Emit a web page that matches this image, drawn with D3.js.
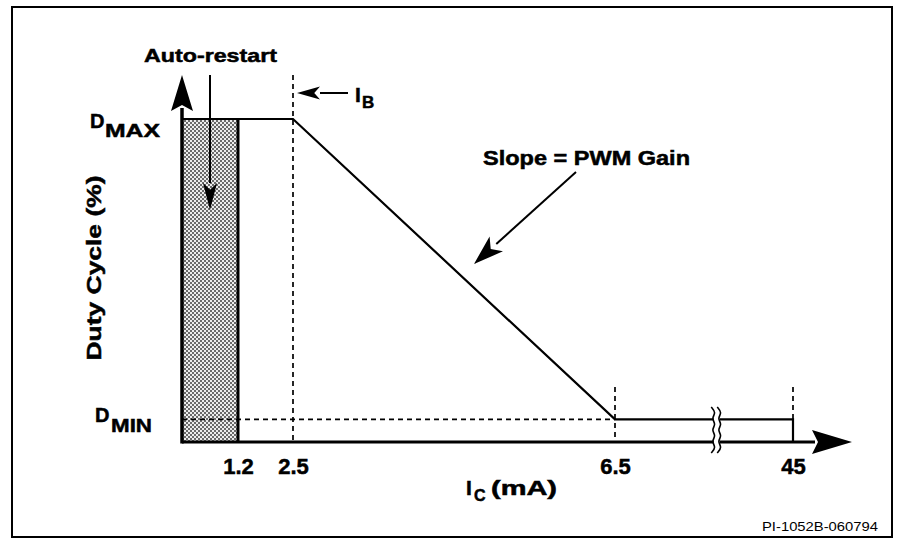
<!DOCTYPE html>
<html>
<head>
<meta charset="utf-8">
<script src="https://cdn.jsdelivr.net/npm/d3@7"></script>
<style>
  body { margin: 0; background: #fff; }
  svg text { font-family: "Liberation Sans", Arial, Helvetica, sans-serif; font-weight: bold; fill: #000; }
</style>
</head>
<body>
<svg id="chart" width="899" height="543"></svg>
<script>
// duty cycle vs control current
var xTicks   = [1.2, 2.5, 6.5, 45];
var xLabels  = ["1.2", "2.5", "6.5", "45"];
var dMax     = 100;   // duty cycle, % of full scale
var dMin     = 7;
var restartI = 1.2;   // auto-restart region ends here (mA)
var iB       = 2.5;
var breakAt  = 28.5;  // where the axis is broken
var curveI   = [0, 2.5, 6.5, 45, 45];
var curveD   = [100, 100, 7, 7, 0];

var svg = d3.select("#chart");

// piecewise scale, the axis is not to scale
var x = d3.scaleLinear().domain([0, 1.2, 2.5, 6.5, 45]).range([182, 238, 293, 615, 793]);
var y = d3.scaleLinear().domain([0, 100]).range([442, 119]);

var defs = svg.append("defs");
var pat = defs.append("pattern").attr("id", "stipple")
  .attr("width", 4).attr("height", 4).attr("patternUnits", "userSpaceOnUse");
pat.append("rect").attr("width", 4).attr("height", 4).attr("fill", "#ececec");
pat.append("rect").attr("width", 2).attr("height", 2).attr("fill", "#6a6a6a");
pat.append("rect").attr("x", 2).attr("y", 2).attr("width", 2).attr("height", 2).attr("fill", "#6a6a6a");

// outer frame
svg.append("rect").attr("x", 12).attr("y", 7).attr("width", 880).attr("height", 530)
  .attr("fill", "none").attr("stroke", "#000").attr("stroke-width", 2);

// shaded auto-restart band
svg.append("rect")
  .attr("x", x(0)).attr("y", y(dMax))
  .attr("width", x(restartI) - x(0)).attr("height", y(0) - y(dMax))
  .attr("fill", "url(#stipple)");
svg.append("line").attr("x1", x(restartI)).attr("x2", x(restartI))
  .attr("y1", y(dMax)).attr("y2", y(0))
  .attr("stroke", "#000").attr("stroke-width", 3);

// dashed guides
function dashed(x1, y1, x2, y2) {
  svg.append("line").attr("x1", x1).attr("y1", y1).attr("x2", x2).attr("y2", y2)
    .attr("stroke", "#000").attr("stroke-width", 1.7).attr("stroke-dasharray", "5,4");
}
dashed(x(iB), 75, x(iB), y(0));
dashed(x(0), y(dMin), x(6.5), y(dMin));
dashed(x(6.5), 387, x(6.5), y(0));
dashed(x(45), 387, x(45), y(dMin));

// the characteristic
var pts = curveI.map(function (d, i) { return [x(d), y(curveD[i])]; });
svg.append("path")
  .attr("d", d3.line()(pts))
  .attr("fill", "none").attr("stroke", "#000").attr("stroke-width", 2.2);

// axes with arrow heads
svg.append("line").attr("x1", x(0)).attr("x2", 815).attr("y1", y(0)).attr("y2", y(0))
  .attr("stroke", "#000").attr("stroke-width", 3);
svg.append("path").attr("d", "M852," + y(0) + "L812," + (y(0) - 12) + "L818," + y(0) + "L812," + (y(0) + 12) + "Z");
svg.append("line").attr("x1", x(0)).attr("x2", x(0)).attr("y1", y(0) + 1.5).attr("y2", 108)
  .attr("stroke", "#000").attr("stroke-width", 3.5);
svg.append("path").attr("d", "M" + x(0) + ",75L" + (x(0) - 11) + ",111L" + x(0) + ",105L" + (x(0) + 11) + ",111Z");

// axis break
var bx = x(breakAt);
svg.append("rect").attr("x", bx - 3).attr("y", 405).attr("width", 6).attr("height", 50).attr("fill", "#fff");
[bx - 3, bx + 3].forEach(function (cx) {
  var wave = [];
  for (var k = 0; k <= 8; k++) wave.push([cx + (k % 2 ? 2.5 : -2.5), 407 + k * 46 / 8]);
  svg.append("path").attr("d", d3.line().curve(d3.curveBasis)(wave))
    .attr("fill", "none").attr("stroke", "#000").attr("stroke-width", 1.6);
});

// tick labels
var xAxis = svg.append("g").attr("transform", "translate(0," + y(0) + ")")
  .call(d3.axisBottom(x).tickValues(xTicks).tickSize(0)
    .tickFormat(function (d, i) { return xLabels[i]; }));
xAxis.select(".domain").remove();
xAxis.selectAll("text").attr("y", 32).attr("dy", 0)
  .style("font-size", "22px").style("font-family", "'Liberation Sans', Arial, sans-serif")
  .style("font-weight", "bold").attr("fill", "#000")
  .attr("stroke", "#000").attr("stroke-width", 0.5);

// text helpers
function label(tx, ty, str, size, len, anchor) {
  var t = svg.append("text").attr("x", tx).attr("y", ty).text(str)
    .style("font-size", size + "px").attr("text-anchor", anchor || "start")
    .attr("stroke", "#000").attr("stroke-width", 0.5);
  if (len) t.attr("textLength", len).attr("lengthAdjust", "spacingAndGlyphs");
  return t;
}

label(90, 128, "D", 20);
label(105, 137, "MAX", 19, 55);
label(95, 422, "D", 20);
label(111, 432, "MIN", 19, 41);

label(144, 62, "Auto-restart", 18.5, 133);
label(483, 165, "Slope = PWM Gain", 19.5, 207);
label(355, 102, "I", 21);
label(362, 108, "B", 17);
label(466, 495, "I", 21);
label(474, 501, "C", 16);
label(491, 495, "(mA)", 20, 66);
svg.append("text").attr("x", 878).attr("y", 531).text("PI-1052B-060794")
  .attr("text-anchor", "end").style("font-size", "13px").style("font-weight", "normal")
  .attr("textLength", 116).attr("lengthAdjust", "spacingAndGlyphs");

svg.append("text").attr("transform", "translate(101,268) rotate(-90)")
  .attr("text-anchor", "middle").style("font-size", "21px")
  .attr("stroke", "#000").attr("stroke-width", 0.5)
  .attr("textLength", 185).attr("lengthAdjust", "spacingAndGlyphs")
  .text("Duty Cycle (%)");

// annotation arrows
function arrow(x1, y1, x2, y2, len, half) {
  var a = Math.atan2(y2 - y1, x2 - x1);
  var bxp = x2 - len * Math.cos(a), byp = y2 - len * Math.sin(a);
  svg.append("line").attr("x1", x1).attr("y1", y1).attr("x2", bxp).attr("y2", byp)
    .attr("stroke", "#000").attr("stroke-width", 2);
  var px = -Math.sin(a) * half, py = Math.cos(a) * half;
  svg.append("path").attr("d", "M" + x2 + "," + y2 + "L" + (bxp + px) + "," + (byp + py) +
    "L" + (bxp + 0.25 * len * Math.cos(a)) + "," + (byp + 0.25 * len * Math.sin(a)) +
    "L" + (bxp - px) + "," + (byp - py) + "Z");
}
arrow(210, 75, 210, 210, 27, 7);
arrow(348, 93, 297, 93, 23, 6.5);
arrow(576, 172, 474, 264, 30, 10);
</script>
</body>
</html>
